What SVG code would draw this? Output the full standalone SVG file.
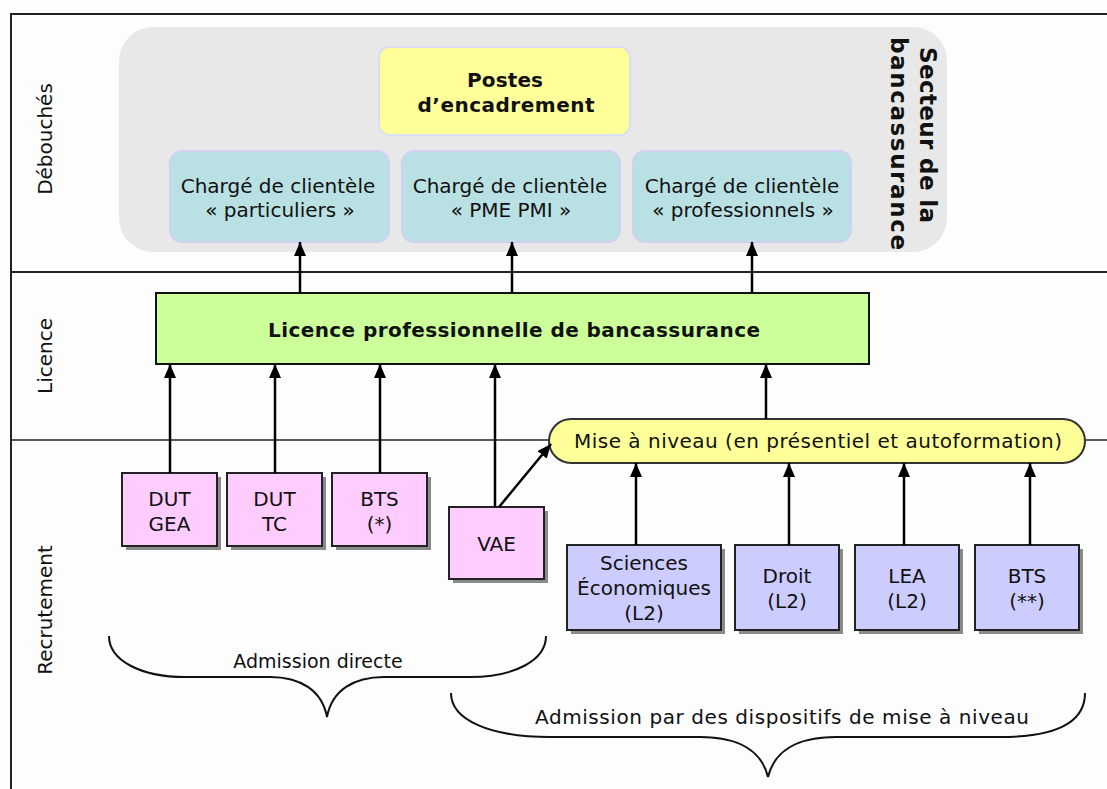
<svg xmlns="http://www.w3.org/2000/svg" width="1107" height="789" viewBox="0 0 1107 789">
<defs>
<style>
text{font-family:"DejaVu Sans","Liberation Sans",sans-serif;fill:#111;}
.t20{font-size:20px;text-anchor:middle;}
.b20{font-size:20px;font-weight:bold;text-anchor:middle;}
.side{font-size:20px;text-anchor:middle;}
.lane{stroke:#222;fill:none;}
.charge{fill:#b9e0e3;stroke:#d0d0f2;stroke-width:2;}
.pink{fill:#ffccff;stroke:#222;stroke-width:2;}
.blue{fill:#ccccff;stroke:#222;stroke-width:2;}
.shadow{fill:#8a8a8a;}
.conn{stroke:#000;stroke-width:2.5;fill:none;marker-end:url(#ah);}
.brace{stroke:#111;stroke-width:2;fill:none;}
</style>
<marker id="ah" markerWidth="14" markerHeight="12" refX="14" refY="6" orient="auto" markerUnits="userSpaceOnUse">
<path d="M0,0 L14,6 L0,12 z" fill="#000"/>
</marker>
</defs>
<rect x="0" y="0" width="1107" height="789" fill="#fdfdfd"/>

<g id="frame">
<line class="lane" x1="10" y1="14" x2="1107" y2="14" stroke-width="2"/>
<line class="lane" x1="11" y1="14" x2="11" y2="789" stroke-width="2"/>
<line class="lane" x1="11" y1="272" x2="1107" y2="272" stroke-width="2" stroke="#444"/>
<line class="lane" x1="11" y1="440" x2="1107" y2="440" stroke-width="1.5"/>
<text class="side" transform="translate(52,139) rotate(-90)">Débouchés</text>
<text class="side" transform="translate(52,356) rotate(-90)">Licence</text>
<text class="side" transform="translate(52,610) rotate(-90)">Recrutement</text>
</g>

<g id="secteur">
<rect x="119" y="27" width="828" height="225" rx="34" fill="#e8e8e8"/>
<text transform="translate(920,47) rotate(90)" font-size="23" font-weight="bold" textLength="176" lengthAdjust="spacing">Secteur de la</text>
<text transform="translate(891,37) rotate(90)" font-size="23" font-weight="bold" textLength="213" lengthAdjust="spacing">bancassurance</text>
</g>

<g id="postes">
<rect x="379" y="47" width="251" height="88" rx="10" fill="#ffff99" stroke="#dcdcf4" stroke-width="2"/>
<text class="b20" x="505" y="87" textLength="76" lengthAdjust="spacing">Postes</text>
<text class="b20" x="506" y="112" textLength="177" lengthAdjust="spacing">d’encadrement</text>
</g>

<g id="charge-particuliers">
<rect class="charge" x="170" y="151" width="219" height="91" rx="12"/>
<text class="t20" x="278" y="193">Chargé de clientèle</text>
<text class="t20" x="280" y="217">« particuliers »</text>
</g>
<g id="charge-pme">
<rect class="charge" x="402" y="151" width="218" height="91" rx="12"/>
<text class="t20" x="510" y="193">Chargé de clientèle</text>
<text class="t20" x="511" y="217">« PME PMI »</text>
</g>
<g id="charge-pro">
<rect class="charge" x="633" y="151" width="218" height="91" rx="12"/>
<text class="t20" x="742" y="193">Chargé de clientèle</text>
<text class="t20" x="743" y="217">« professionnels »</text>
</g>

<g id="licence">
<rect x="156" y="293" width="713" height="71" fill="#ccff99" stroke="#111" stroke-width="2"/>
<text class="b20" x="514" y="337" textLength="492" lengthAdjust="spacing">Licence professionnelle de bancassurance</text>
</g>

<g id="dut-gea">
<rect class="shadow" x="126" y="477" width="95" height="73"/>
<rect class="pink" x="122" y="473" width="95" height="73"/>
<text class="t20" x="169.5" y="506">DUT</text>
<text class="t20" x="169.5" y="531">GEA</text>
</g>
<g id="dut-tc">
<rect class="shadow" x="231" y="477" width="95" height="73"/>
<rect class="pink" x="227" y="473" width="95" height="73"/>
<text class="t20" x="274.5" y="506">DUT</text>
<text class="t20" x="274.5" y="531">TC</text>
</g>
<g id="bts1">
<rect class="shadow" x="336" y="477" width="95" height="73"/>
<rect class="pink" x="332" y="473" width="95" height="73"/>
<text class="t20" x="379.5" y="506">BTS</text>
<text class="t20" x="379.5" y="531">(*)</text>
</g>
<g id="vae">
<rect class="shadow" x="453" y="511" width="95" height="72"/>
<rect class="pink" x="449" y="507" width="95" height="72"/>
<text class="t20" x="496.5" y="551">VAE</text>
</g>

<g id="sciences-eco">
<rect class="shadow" x="571" y="549" width="154" height="85"/>
<rect class="blue" x="567" y="545" width="154" height="85"/>
<text class="t20" x="644" y="570">Sciences</text>
<text class="t20" x="644" y="595">Économiques</text>
<text class="t20" x="644" y="620">(L2)</text>
</g>
<g id="droit">
<rect class="shadow" x="739" y="549" width="104" height="85"/>
<rect class="blue" x="735" y="545" width="104" height="85"/>
<text class="t20" x="787" y="583">Droit</text>
<text class="t20" x="787" y="608">(L2)</text>
</g>
<g id="lea">
<rect class="shadow" x="859" y="549" width="104" height="85"/>
<rect class="blue" x="855" y="545" width="104" height="85"/>
<text class="t20" x="907" y="583">LEA</text>
<text class="t20" x="907" y="608">(L2)</text>
</g>
<g id="bts2">
<rect class="shadow" x="979" y="549" width="104" height="85"/>
<rect class="blue" x="975" y="545" width="104" height="85"/>
<text class="t20" x="1027" y="583">BTS</text>
<text class="t20" x="1027" y="608">(**)</text>
</g>

<g id="mise-a-niveau">
<rect x="549" y="419" width="536" height="44" rx="22" fill="#ffff99" stroke="#333" stroke-width="2"/>
<text class="t20" x="818" y="448" textLength="488" lengthAdjust="spacing">Mise à niveau (en présentiel et autoformation)</text>
</g>

<g id="connectors">
<line class="conn" x1="300" y1="293" x2="300" y2="242"/>
<line class="conn" x1="512" y1="293" x2="512" y2="242"/>
<line class="conn" x1="752" y1="293" x2="752" y2="242"/>
<line class="conn" x1="170" y1="473" x2="170" y2="364"/>
<line class="conn" x1="275" y1="473" x2="275" y2="364"/>
<line class="conn" x1="380" y1="473" x2="380" y2="364"/>
<line class="conn" x1="495" y1="507" x2="495" y2="364"/>
<line class="conn" x1="499" y1="507" x2="551" y2="444"/>
<line class="conn" x1="766" y1="419" x2="766" y2="364"/>
<line class="conn" x1="636" y1="545" x2="636" y2="463"/>
<line class="conn" x1="789" y1="545" x2="789" y2="463"/>
<line class="conn" x1="904" y1="545" x2="904" y2="463"/>
<line class="conn" x1="1030" y1="545" x2="1030" y2="463"/>
</g>

<g id="brace-directe">
<path class="brace" d="M109,636 C109,660 140,677 185,677 L270,677 C300,677 322,690 327,717 C332,690 354,677 384,677 L470,677 C515,677 546,660 546,636"/>
<text x="318" y="668" font-size="19" text-anchor="middle">Admission directe</text>
</g>

<g id="brace-niveau">
<path class="brace" d="M451,693 C451,720 490,737 550,737 L700,737 C740,737 762,752 768,777 C774,752 796,737 836,737 L1000,737 C1060,737 1085,720 1085,693"/>
<text x="782" y="724" font-size="20" text-anchor="middle" textLength="494" lengthAdjust="spacing">Admission par des dispositifs de mise à niveau</text>
</g>
</svg>
